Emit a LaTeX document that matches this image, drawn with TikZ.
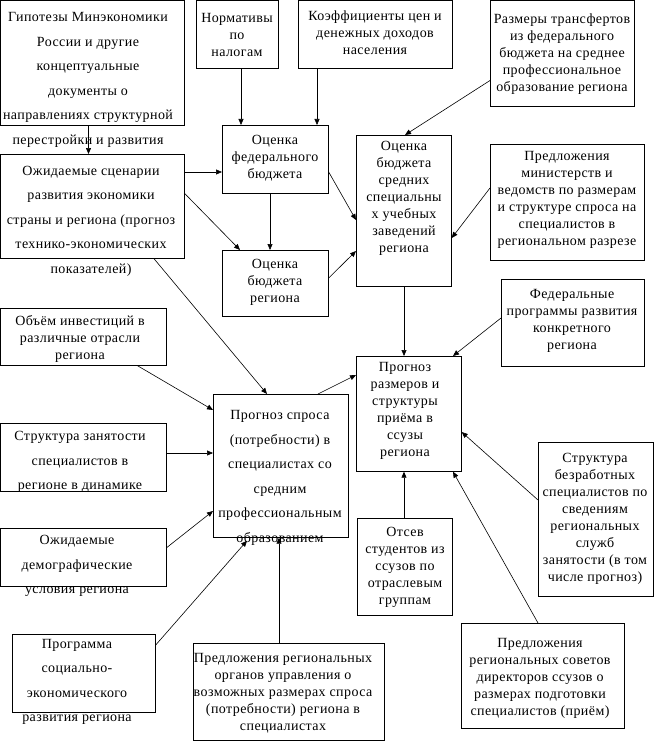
\documentclass[tikz,border=0pt]{standalone}
\usepackage{fontspec}
\setmainfont{Liberation Serif}[LetterSpace=3]
\usetikzlibrary{arrows.meta,calc}
\tikzset{
  box/.style 2 args={draw, line width=0.7pt, anchor=north west, inner sep=0pt,
    minimum width=#1, minimum height=#2},
  txt/.style={align=center, inner sep=0pt, font=\fontsize{14}{17}\selectfont},
  txtw/.style={txt, font=\fontsize{14}{24.5}\selectfont},
  arr/.style={-{Triangle[length=6pt,width=5pt]}, line width=0.6pt}
}
\begin{document}
\begin{tikzpicture}[x=1pt,y=-1pt]
    \useasboundingbox (0,0) rectangle (654,741);
    % boxes
    \node[box={183}{125}] (gip) at (0.5,0.5) {};
    \node[box={82}{68}] (norm) at (196,0.5) {};
    \node[box={154}{68}] (koef) at (298,0.5) {};
    \node[box={144}{106}] (trans) at (490,0.5) {};
    \node[box={106}{68}] (fed) at (222,125) {};
    \node[box={183}{104}] (scen) at (0.5,154) {};
    \node[box={106}{66}] (reg) at (222,250) {};
    \node[box={95}{151}] (suz) at (356,135) {};
    \node[box={154}{116}] (min) at (490,144) {};
    \node[box={143}{87}] (fedp) at (501,279) {};
    \node[box={105}{115}] (razm) at (356,356) {};
    \node[box={115}{154}] (bezr) at (538,442) {};
    \node[box={95}{97}] (otsev) at (357,518) {};
    \node[box={163}{105}] (sov) at (461,623) {};
    \node[box={191}{97}] (org) at (193,643) {};
    \node[box={143}{78}] (prog) at (12,634) {};
    \node[box={165}{58}] (demo) at (0.5,528) {};
    \node[box={165}{68}] (zan) at (0.5,423) {};
    \node[box={165}{57}] (inv) at (0.5,308) {};
    \node[box={135}{143}] (spros) at (213,394) {};
    % texts
    \node[txtw] (gip-t) at (88,80) {Гипотезы Минэкономики\\России и другие\\концептуальные\\документы о\\направлениях структурной\\перестройки и развития};
    \node[txt] (norm-t) at (237,35) {Нормативы\\по\\налогам};
    \node[txt] (koef-t) at (375,33) {Коэффициенты цен и\\денежных доходов\\населения};
    \node[txt] (trans-t) at (562,54) {Размеры трансфертов\\из федерального\\бюджета на среднее\\профессиональное\\образование региона};
    \node[txt] (fed-t) at (275,158) {Оценка\\федерального\\бюджета};
    \node[txtw] (scen-t) at (91,221) {Ожидаемые сценарии\\развития экономики\\страны и региона (прогноз\\технико-экономических\\показателей)};
    \node[txt] (reg-t) at (275,282) {Оценка\\бюджета\\региона};
    \node[txt] (suz-t) at (404,198) {Оценка\\бюджета\\средних\\специальны\\х учебных\\заведений\\региона};
    \node[txt] (min-t) at (567,200) {Предложения\\министерств и\\ведомств по размерам\\и структуре спроса на\\специалистов в\\региональном разрезе};
    \node[txt] (fedp-t) at (572,321) {Федеральные\\программы развития\\конкретного\\региона};
    \node[txt] (razm-t) at (405,411) {Прогноз\\размеров и\\структуры\\приёма в\\ссузы\\региона};
    \node[txt] (bezr-t) at (595,519) {Структура\\безработных\\специалистов по\\сведениям\\региональных\\служб\\занятости (в том\\числе прогноз)};
    \node[txt] (otsev-t) at (405,567) {Отсев\\студентов из\\ссузов по\\отраслевым\\группам};
    \node[txt] (sov-t) at (540,678) {Предложения\\региональных советов\\директоров ссузов о\\размерах подготовки\\специалистов (приём)};
    \node[txt] (org-t) at (283,693) {Предложения региональных\\органов управления о\\возможных размерах спроса\\(потребности) региона в\\специалистах};
    \node[txtw] (prog-t) at (77,682) {Программа\\социально-\\экономического\\развития региона};
    \node[txtw] (demo-t) at (77,566) {Ожидаемые\\демографические\\условия региона};
    \node[txtw] (zan-t) at (80,462) {Структура занятости\\специалистов в\\регионе в динамике};
    \node[txt] (inv-t) at (80,339) {Объём инвестиций в\\различные отрасли\\региона};
    \node[txtw] (spros-t) at (280,478) {Прогноз спроса\\(потребности) в\\специалистах со\\средним\\профессиональным\\образованием};
    % arrows
    \draw[arr] ($(gip.south west)+(88,0)$) -- ($(scen.north west)+(88,0)$);
    \draw[arr] ($(norm.south west)+(45,0)$) -- ($(fed.north west)+(19,0)$);
    \draw[arr] ($(koef.south west)+(19,0)$) -- ($(fed.north west)+(95,0)$);
    \draw[arr] ($(trans.north west)+(0,80)$) -- ($(suz.north west)+(49,0)$);
    \draw[arr] ($(scen.north east)+(0,18)$) -- ($(fed.north west)+(0,47)$);
    \draw[arr] ($(scen.north east)+(0,39)$) -- ($(reg.north west)+(18,0)$);
    \draw[arr] ($(fed.south west)+(48,0)$) -- ($(reg.north west)+(48,0)$);
    \draw[arr] ($(fed.north east)+(0,47)$) -- ($(suz.north west)+(0,85)$);
    \draw[arr] ($(reg.north east)+(0,28)$) -- ($(suz.north west)+(0,116)$);
    \draw[arr] ($(min.north west)+(0,44)$) -- ($(suz.north east)+(0,103)$);
    \draw[arr] ($(suz.south west)+(48,0)$) -- ($(razm.north west)+(48,0)$);
    \draw[arr] ($(fedp.north west)+(0,39)$) -- ($(razm.north west)+(97,0)$);
    \draw[arr] ($(bezr.north west)+(0,58)$) -- ($(razm.north east)+(0,76)$);
    \draw[arr] ($(otsev.north west)+(47,0)$) -- ($(razm.south west)+(48,0)$);
    \draw[arr] ($(sov.north west)+(77,0)$) -- ($(razm.south west)+(97,0)$);
    \draw[arr] ($(scen.south west)+(153.5,0)$) -- ($(spros.north west)+(54,0)$);
    \draw[arr] ($(spros.north west)+(105,0)$) -- ($(razm.north west)+(0,19)$);
    \draw[arr] ($(inv.south west)+(137,0)$) -- ($(spros.north west)+(0,16)$);
    \draw[arr] ($(zan.north east)+(0,30)$) -- ($(spros.north west)+(0,59)$);
    \draw[arr] ($(demo.north east)+(0,20)$) -- ($(spros.north west)+(0,117)$);
    \draw[arr] ($(prog.north east)+(0,11)$) -- ($(spros.south west)+(34,3)$);
    \draw[arr] ($(org.north west)+(86,0)$) -- ($(spros.south west)+(66,0)$);
\end{tikzpicture}
\end{document}
